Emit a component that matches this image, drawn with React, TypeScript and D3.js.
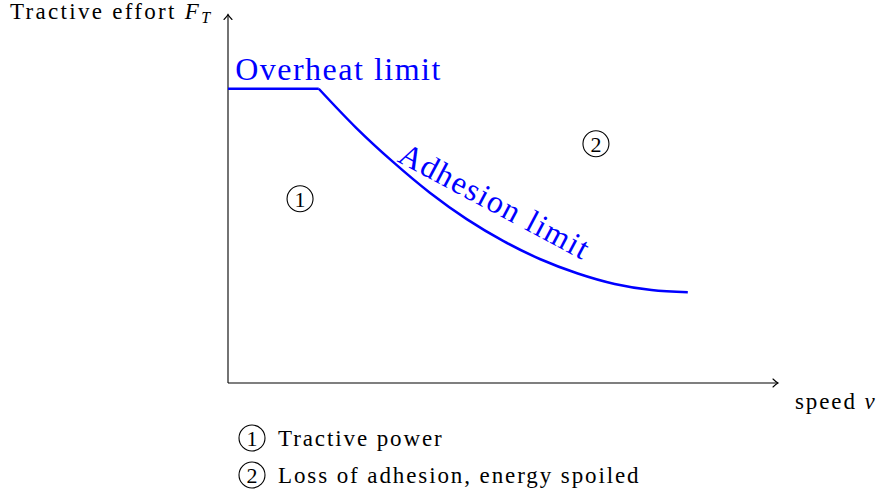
import React from 'react';
import * as d3 from 'd3';

// traction curve (arbitrary units)
const speed = [0, 1.65, 2.33, 3.0, 3.67, 4.34, 5.01, 5.68, 6.36, 7.03, 7.7, 8.36];
const effort = [5.35, 5.35, 4.64, 4.02, 3.46, 2.98, 2.58, 2.25, 1.99, 1.8, 1.69, 1.65];
const kink = 1; // index where the overheat plateau ends
const axisMaxX = 10;
const axisMaxY = 6.7;

const regionLabels = ['1', '2'];
const regionX = [1.31, 6.69];
const regionY = [3.35, 4.35];
const legendItems = ['Tractive power', 'Loss of adhesion, energy spoiled'];

const W = 879;
const H = 496;
const BLUE = '#0000ff';
const FONT = 'Liberation Serif, DejaVu Serif, serif';

export default function App() {
  const x = d3.scaleLinear().domain([0, axisMaxX]).range([228, 778]);
  const y = d3.scaleLinear().domain([0, axisMaxY]).range([383, 14.5]);

  const pts: [number, number][] = speed.map((s, i) => [s, effort[i]]);
  const flat = d3
    .line<[number, number]>()
    .x(d => x(d[0]))
    .y(d => y(d[1]))(pts.slice(0, kink + 1));
  const curve = d3
    .line<[number, number]>()
    .x(d => x(d[0]))
    .y(d => y(d[1]))
    .curve(d3.curveCatmullRom)(pts.slice(kink));

  const x0 = x(0);
  const y0 = y(0);
  const xt = x(axisMaxX);
  const yt = y(axisMaxY);

  const arrowRight = `M${xt - 5},${y0 - 4} Q${xt - 2},${y0 - 1} ${xt},${y0} Q${xt - 2},${y0 + 1} ${xt - 5},${y0 + 4}`;
  const arrowUp = `M${x0 - 4},${yt + 5} Q${x0 - 1},${yt + 2} ${x0},${yt} Q${x0 + 1},${yt + 2} ${x0 + 4},${yt + 5}`;

  return (
    <svg width={W} height={H} style={{ position: 'absolute', left: 0, top: 0 }} fontFamily={FONT}>
      <rect width={W} height={H} fill="#fff" />
      {/* axes */}
      <line x1={x0} y1={y0} x2={xt} y2={y0} stroke="#000" strokeWidth={1.1} />
      <line x1={x0} y1={y0} x2={x0} y2={yt} stroke="#000" strokeWidth={1.1} />
      <path d={arrowRight} fill="none" stroke="#000" strokeWidth={1.1} strokeLinecap="round" />
      <path d={arrowUp} fill="none" stroke="#000" strokeWidth={1.1} strokeLinecap="round" />

      <text x={10} y={19} fontFamily={FONT} fontSize={23} letterSpacing={2.3}>
        Tractive effort{' '}
        <tspan fontStyle="italic">F</tspan>
        <tspan fontStyle="italic" fontSize={16} dy={4}>T</tspan>
      </text>
      <text x={795} y={409} fontFamily={FONT} fontSize={23} letterSpacing={1.9}>
        speed <tspan fontStyle="italic">v</tspan>
      </text>

      {/* limit curve */}
      <path d={flat ?? ''} fill="none" stroke={BLUE} strokeWidth={2.5} />
      <path d={curve ?? ''} fill="none" stroke={BLUE} strokeWidth={2.5} />

      <text x={x(0.13)} y={y(5.51)} fill={BLUE} fontFamily={FONT} fontSize={32} letterSpacing={1.5}>
        Overheat limit
      </text>
      <text
        transform={`translate(${x(4.76)},${y(3.13)}) rotate(28)`}
        textAnchor="middle"
        fill={BLUE}
        fontFamily={FONT}
        fontSize={32}
        letterSpacing={1.5}
      >
        Adhesion limit
      </text>

      {/* region markers */}
      {regionLabels.map((l, i) => (
        <g key={l} transform={`translate(${x(regionX[i])},${y(regionY[i])})`}>
          <circle r={13} fill="none" stroke="#000" strokeWidth={1.1} />
          <text textAnchor="middle" dy={8} fontFamily={FONT} fontSize={22}>{l}</text>
        </g>
      ))}

      {/* legend */}
      {legendItems.map((t, i) => (
        <g key={t} transform={`translate(252,${438 + i * 37})`}>
          <circle r={13} fill="none" stroke="#000" strokeWidth={1.1} />
          <text textAnchor="middle" dy={8} fontFamily={FONT} fontSize={22}>{regionLabels[i]}</text>
          <text x={26} dy={8} fontFamily={FONT} fontSize={23} letterSpacing={1.9}>{t}</text>
        </g>
      ))}
    </svg>
  );
}
